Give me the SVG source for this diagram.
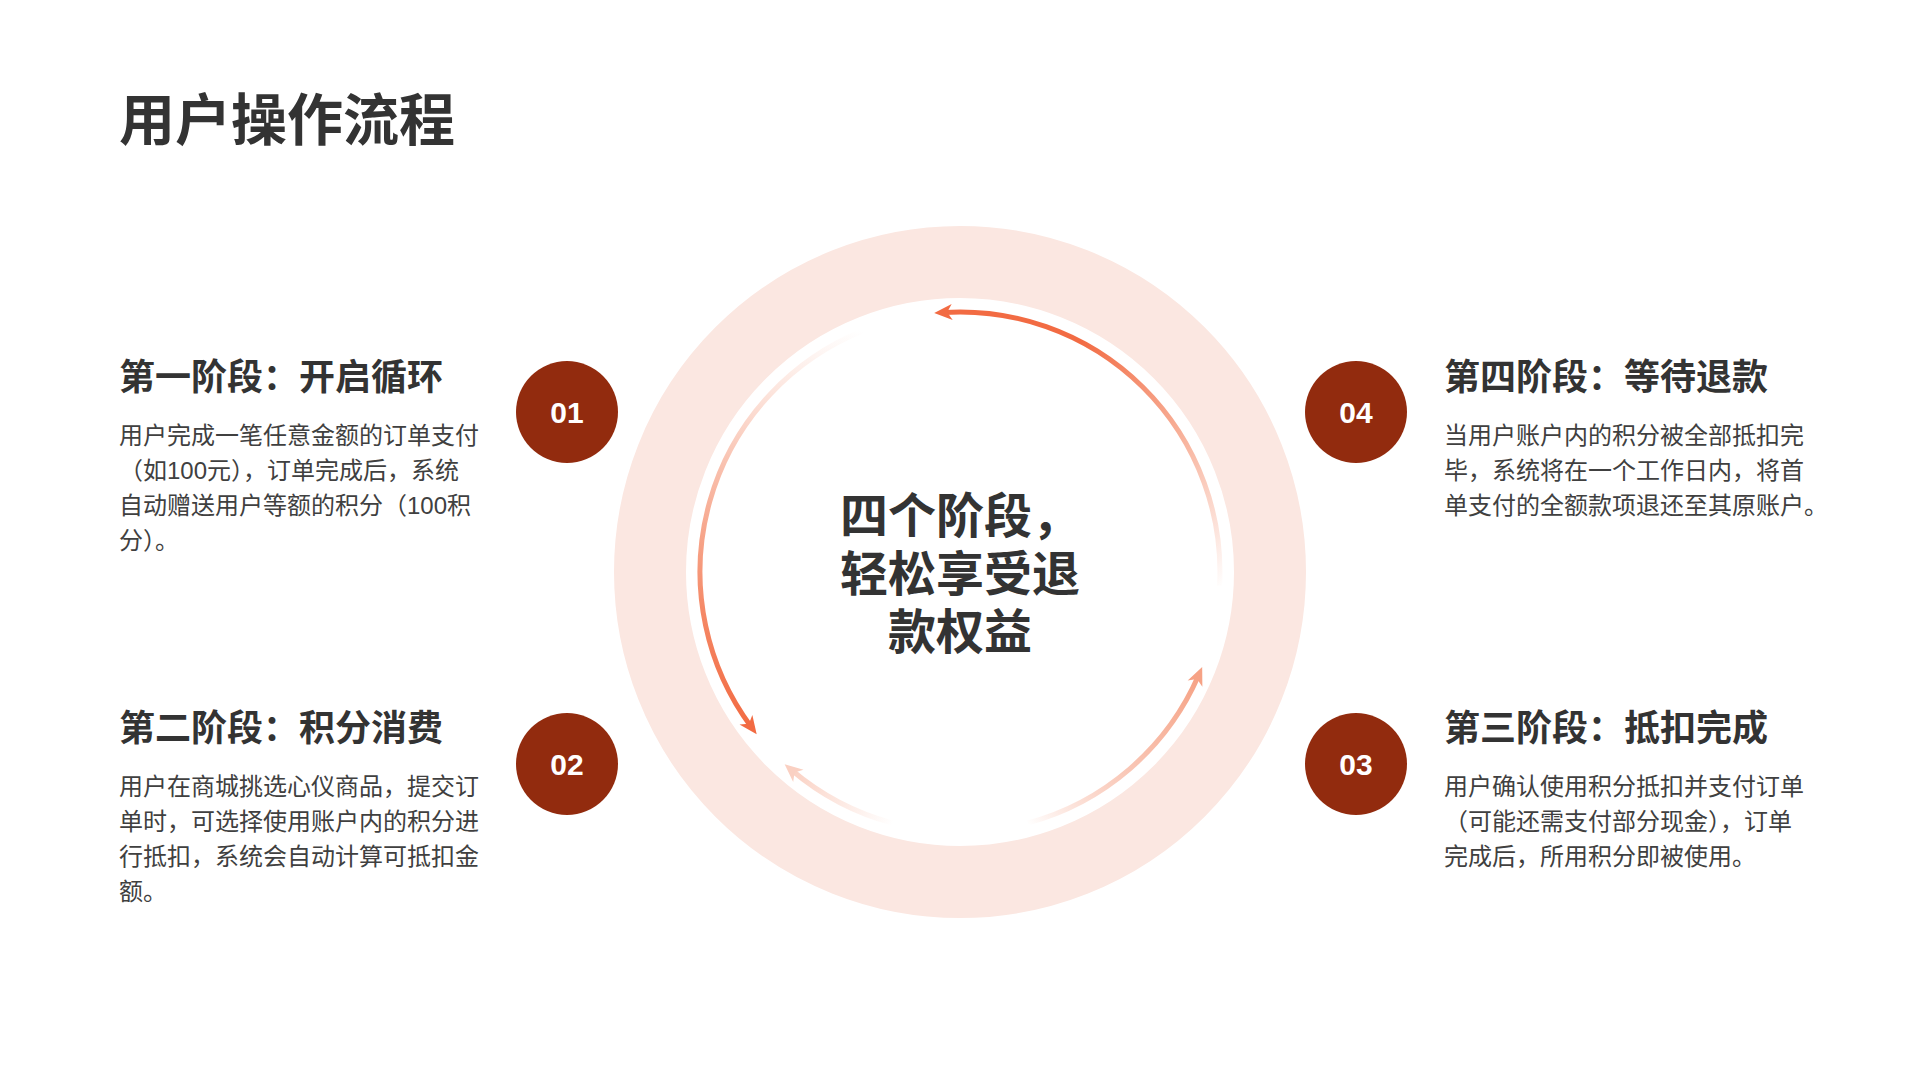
<svg xmlns="http://www.w3.org/2000/svg" width="1920" height="1080" viewBox="0 0 1920 1080">
  <style>
    .title { font-family: "Liberation Sans", "Noto Sans CJK SC", sans-serif; font-weight: 700; font-size: 56px; fill: #333333; }
    .head { font-family: "Liberation Sans", "Noto Sans CJK SC", sans-serif; font-weight: 700; font-size: 36px; fill: #333333; }
    .body { font-family: "Liberation Sans", "Noto Sans CJK SC", sans-serif; font-size: 24px; fill: #404040; }
    .num { font-family: "Liberation Sans", "Noto Sans CJK SC", sans-serif; font-weight: 700; font-size: 30px; fill: #ffffff; text-anchor: middle; }
    .center { font-family: "Liberation Sans", "Noto Sans CJK SC", sans-serif; font-weight: 700; font-size: 48px; fill: #333333; text-anchor: middle; }
    .badge { fill: #922B0E; }
    .arc { fill: none; stroke-width: 5; }
  </style>
  <defs>
    <linearGradient id="g1" gradientUnits="userSpaceOnUse" x1="1220" y1="590" x2="943" y2="312">
      <stop offset="0" stop-color="#F6A085" stop-opacity="0"/>
      <stop offset="0.35" stop-color="#F7A88E" stop-opacity="0.9"/>
      <stop offset="0.7" stop-color="#F26B43"/>
      <stop offset="1" stop-color="#F26B43"/>
    </linearGradient>
    <linearGradient id="g2" gradientUnits="userSpaceOnUse" x1="862" y1="331" x2="751" y2="727">
      <stop offset="0" stop-color="#FBD3C6" stop-opacity="0"/>
      <stop offset="0.4" stop-color="#F9C2B0"/>
      <stop offset="0.75" stop-color="#F58A68"/>
      <stop offset="1" stop-color="#F26B43"/>
    </linearGradient>
    <linearGradient id="g3" gradientUnits="userSpaceOnUse" x1="1027" y1="823" x2="1199" y2="675">
      <stop offset="0" stop-color="#F8B29B" stop-opacity="0"/>
      <stop offset="0.5" stop-color="#F9C6B5"/>
      <stop offset="1" stop-color="#F6A285"/>
    </linearGradient>
    <linearGradient id="g4" gradientUnits="userSpaceOnUse" x1="893" y1="823" x2="791" y2="770">
      <stop offset="0" stop-color="#FBD3C6" stop-opacity="0"/>
      <stop offset="1" stop-color="#FAD0C2"/>
    </linearGradient>
    <marker id="m1" viewBox="0 0 20 20" refX="10" refY="10" markerWidth="20" markerHeight="20" markerUnits="userSpaceOnUse" orient="auto">
      <path d="M1,2 L19,10 L1,18 L6,10 Z" fill="#F26B43"/>
    </marker>
    <marker id="m2" viewBox="0 0 20 20" refX="10" refY="10" markerWidth="20" markerHeight="20" markerUnits="userSpaceOnUse" orient="auto">
      <path d="M1,2 L19,10 L1,18 L6,10 Z" fill="#F26B43"/>
    </marker>
    <marker id="m3" viewBox="0 0 20 20" refX="10" refY="10" markerWidth="20" markerHeight="20" markerUnits="userSpaceOnUse" orient="auto">
      <path d="M1,2 L19,10 L1,18 L6,10 Z" fill="#F6A285"/>
    </marker>
    <marker id="m4" viewBox="0 0 20 20" refX="10" refY="10" markerWidth="20" markerHeight="20" markerUnits="userSpaceOnUse" orient="auto">
      <path d="M1,2 L19,10 L1,18 L6,10 Z" fill="#FAD0C2"/>
    </marker>
  </defs>

  <rect x="0" y="0" width="1920" height="1080" fill="#ffffff"/>

  <text class="title" x="119" y="140">用户操作流程</text>

  <g id="ring">
    <circle cx="960" cy="572" r="310" fill="none" stroke="#FBE7E1" stroke-width="72"/>
  </g>

  <g id="connectors">
    <path class="arc" d="M1219.6,585.6 A260,260 0 0 0 943.2,312.5" stroke="url(#g1)" marker-end="url(#m1)"/>
    <path class="arc" d="M862.6,330.9 A260,260 0 0 0 751.3,727.0" stroke="url(#g2)" marker-end="url(#m2)"/>
    <path class="arc" d="M1027.3,823.1 A260,260 0 0 0 1198.6,675.3" stroke="url(#g3)" marker-end="url(#m3)"/>
    <path class="arc" d="M892.7,823.1 A260,260 0 0 1 791.5,770.0" stroke="url(#g4)" marker-end="url(#m4)"/>
  </g>

  <g id="center-label">
    <text class="center" x="960" y="533">四个阶段，</text>
    <text class="center" x="960" y="591">轻松享受退</text>
    <text class="center" x="960" y="649">款权益</text>
  </g>

  <g id="stage1">
    <circle class="badge" cx="567" cy="412" r="51"/>
    <text class="num" x="567" y="423">01</text>
    <text class="head" x="119" y="390">第一阶段：开启循环</text>
    <text class="body" x="119" y="444">用户完成一笔任意金额的订单支付</text>
    <text class="body" x="119" y="479">（如100元），订单完成后，系统</text>
    <text class="body" x="119" y="514">自动赠送用户等额的积分（100积</text>
    <text class="body" x="119" y="549">分）。</text>
  </g>

  <g id="stage2">
    <circle class="badge" cx="567" cy="764" r="51"/>
    <text class="num" x="567" y="775">02</text>
    <text class="head" x="119" y="741">第二阶段：积分消费</text>
    <text class="body" x="119" y="795">用户在商城挑选心仪商品，提交订</text>
    <text class="body" x="119" y="830">单时，可选择使用账户内的积分进</text>
    <text class="body" x="119" y="865">行抵扣，系统会自动计算可抵扣金</text>
    <text class="body" x="119" y="900">额。</text>
  </g>

  <g id="stage3">
    <circle class="badge" cx="1356" cy="764" r="51"/>
    <text class="num" x="1356" y="775">03</text>
    <text class="head" x="1444" y="741">第三阶段：抵扣完成</text>
    <text class="body" x="1444" y="795">用户确认使用积分抵扣并支付订单</text>
    <text class="body" x="1444" y="830">（可能还需支付部分现金），订单</text>
    <text class="body" x="1444" y="865">完成后，所用积分即被使用。</text>
  </g>

  <g id="stage4">
    <circle class="badge" cx="1356" cy="412" r="51"/>
    <text class="num" x="1356" y="423">04</text>
    <text class="head" x="1444" y="390">第四阶段：等待退款</text>
    <text class="body" x="1444" y="444">当用户账户内的积分被全部抵扣完</text>
    <text class="body" x="1444" y="479">毕，系统将在一个工作日内，将首</text>
    <text class="body" x="1444" y="514">单支付的全额款项退还至其原账户。</text>
  </g>
</svg>
